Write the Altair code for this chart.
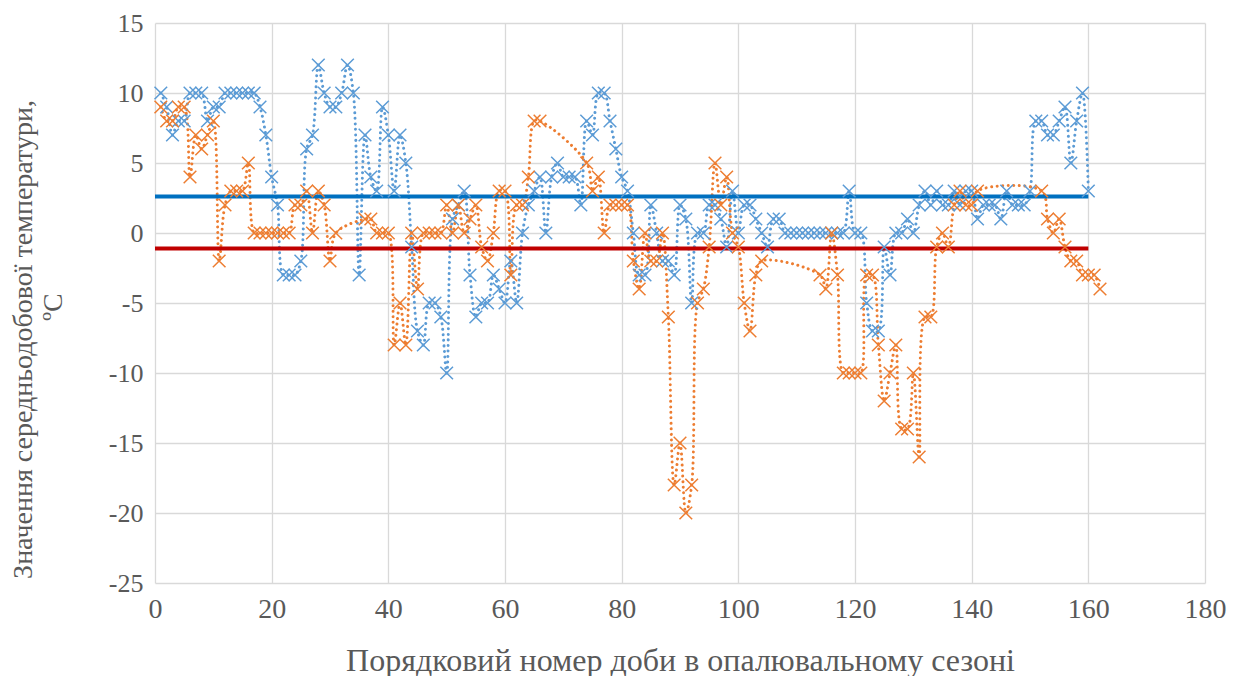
import altair as alt
import pandas as pd

# Series 1 (blue): day number and mean daily temperature
blue_day = list(range(1, 161))
blue_temp = [
    10, 9, 7, 8, 8, 10, 10, 10, 8, 9,
    9, 10, 10, 10, 10, 10, 10, 9, 7, 4,
    2, -3, -3, -3, -2, 6, 7, 12, 10, 9,
    9, 10, 12, 10, -3, 7, 4, 3, 9, 7,
    3, 7, 5, -1, -7, -8, -5, -5, -6, -10,
    1, 2, 3, -3, -6, -5, -5, -3, -4, -5,
    -2, -5, 0, 2, 3, 4, 0, 4, 5, 4,
    4, 4, 2, 8, 7, 10, 10, 8, 6, 4,
    3, 0, -3, -3, 2, 0, -2, -2, -3, 2,
    1, -5, 0, 0, 2, 2, 1, -1, 3, 0,
    2, 2, 1, 0, -1, 1, 1, 0, 0, 0,
    0, 0, 0, 0, 0, 0, 0, 0, 3, 0,
    0, -5, -7, -7, -1, -3, 0, 0, 1, 0,
    2, 3, 2, 3, 2, 2, 3, 2, 3, 3,
    1, 2, 2, 2, 1, 3, 2, 2, 2, 3,
    8, 8, 7, 7, 8, 9, 5, 8, 10, 3,
]

# Series 2 (orange): day number and mean daily temperature (some days missing)
orange_day = [
    1, 2, 3, 4, 5, 6, 7, 8, 9, 10,
    11, 12, 13, 14, 15, 16, 17, 18, 19, 20,
    21, 22, 23, 24, 25, 26, 27, 28, 29, 30,
    31, 36, 37, 38, 39, 40, 41, 42, 43, 44,
    45, 46, 47, 48, 49, 50, 51, 52, 53, 54,
    55, 56, 57, 58, 59, 60, 61, 62, 63, 64,
    65, 66, 74, 75, 76, 77, 78, 79, 80, 81,
    82, 83, 84, 85, 86, 87, 88, 89, 90, 91,
    92, 93, 94, 95, 96, 97, 98, 99, 100, 101,
    102, 103, 104, 114, 115, 116, 117, 118, 119, 120,
    121, 122, 123, 124, 125, 126, 127, 128, 129, 130,
    131, 132, 133, 134, 135, 136, 137, 138, 139, 140,
    141, 152, 153, 154, 155, 156, 157, 158, 159, 160,
    161, 162,
]
orange_temp = [
    9, 8, 8, 9, 9, 4, 7, 6, 7, 8,
    -2, 2, 3, 3, 3, 5, 0, 0, 0, 0,
    0, 0, 0, 2, 2, 3, 0, 3, 2, -2,
    0, 1, 1, 0, 0, 0, -8, -5, -8, 0,
    -4, 0, 0, 0, 0, 2, 0, 2, 0, 1,
    2, -1, -2, 0, 3, 3, -3, 2, 2, 4,
    8, 8, 5, 3, 4, 0, 2, 2, 2, 2,
    -2, -4, 0, -2, -2, 0, -6, -18, -15, -20,
    -18, -5, -4, -1, 5, 2, 4, 0, -1, -5,
    -7, -3, -2, -3, -4, 0, -3, -10, -10, -10,
    -10, -3, -3, -8, -12, -10, -8, -14, -14, -10,
    -16, -6, -6, -1, 0, -1, 2, 3, 2, 2,
    3, 3, 1, 0, 1, -1, -2, -2, -3, -3,
    -3, -4,
]

# Average lines
mean_x = [0, 160]
blue_mean = [2.6, 2.6]
red_mean = [-1.1, -1.1]

x_ticks = [0, 20, 40, 60, 80, 100, 120, 140, 160, 180]
y_ticks = [-25, -20, -15, -10, -5, 0, 5, 10, 15]

x_title = "Порядковий номер доби в опалювальному сезоні"
y_title = ["Значення середньодобової температури,", "\u00a0"]
y_unit = ["ºC"]

blue_df = pd.DataFrame({"day": blue_day, "t": blue_temp})
orange_df = pd.DataFrame({"day": orange_day, "t": orange_temp})
bmean_df = pd.DataFrame({"day": mean_x, "t": blue_mean})
rmean_df = pd.DataFrame({"day": mean_x, "t": red_mean})
unit_df = pd.DataFrame({"label": y_unit})

FONT = "Liberation Serif"

x_enc = alt.X(
    "day:Q",
    scale=alt.Scale(domain=[0, 180], nice=False),
    axis=alt.Axis(values=x_ticks, title=x_title, labelPadding=12,
                  labelFontSize=28, titleFontSize=32, titlePadding=22,
                  labelFlush=False, labelExpr="'' + datum.value"),
)
y_enc = alt.Y(
    "t:Q",
    scale=alt.Scale(domain=[-25, 15], nice=False),
    axis=alt.Axis(values=y_ticks, title=y_title, labelPadding=12,
                  labelFontSize=26, titleFontSize=28, titleX=-118, titleY=316,
                  labelFlush=False, labelExpr="'' + datum.value"),
)

cross = "M-1,-1L1,1M-1,1L1,-1"

def dotted(df, color):
    return alt.Chart(df).mark_line(
        interpolate="catmull-rom", strokeDash=[0.01, 5.5], strokeCap="round",
        strokeWidth=3, color=color,
    ).encode(x=x_enc, y=y_enc, order="day:Q")

def crosses(df, color):
    return alt.Chart(df).mark_point(
        shape=cross, size=160, filled=False, strokeWidth=1.5, color=color,
        opacity=1,
    ).encode(x=x_enc, y=y_enc)

def mean_line(df, color):
    return alt.Chart(df).mark_line(strokeWidth=4, color=color).encode(
        x=x_enc, y=y_enc)

# second line of the y-axis title (unit), placed beside the first line
unit_text = alt.Chart(unit_df).mark_text(
    font=FONT, fontSize=28, color="#595959", angle=270, align="center",
    baseline="middle", clip=False,
).encode(text="label:N", x=alt.value(-101), y=alt.value(284))

BLUE = "#5B9BD5"
ORANGE = "#ED7D31"

chart = alt.layer(
    dotted(blue_df, BLUE),
    dotted(orange_df, ORANGE),
    mean_line(bmean_df, "#0070C0"),
    mean_line(rmean_df, "#C00000"),
    crosses(blue_df, BLUE),
    crosses(orange_df, ORANGE),
    unit_text,
).properties(
    width=1050,
    height=560,
    autosize=alt.AutoSizeParams(type="none"),
    padding={"left": 147, "top": 15, "right": 28, "bottom": 93},
).configure_view(
    stroke=None
).configure_axis(
    grid=True,
    gridColor="#D9D9D9",
    gridWidth=1.3,
    domain=False,
    ticks=False,
    labelFont=FONT,
    labelColor="#595959",
    titleFont=FONT,
    titleFontWeight="normal",
    titleColor="#595959",
)

chart.save("out.html", embed_options={"renderer": "svg", "actions": False})
